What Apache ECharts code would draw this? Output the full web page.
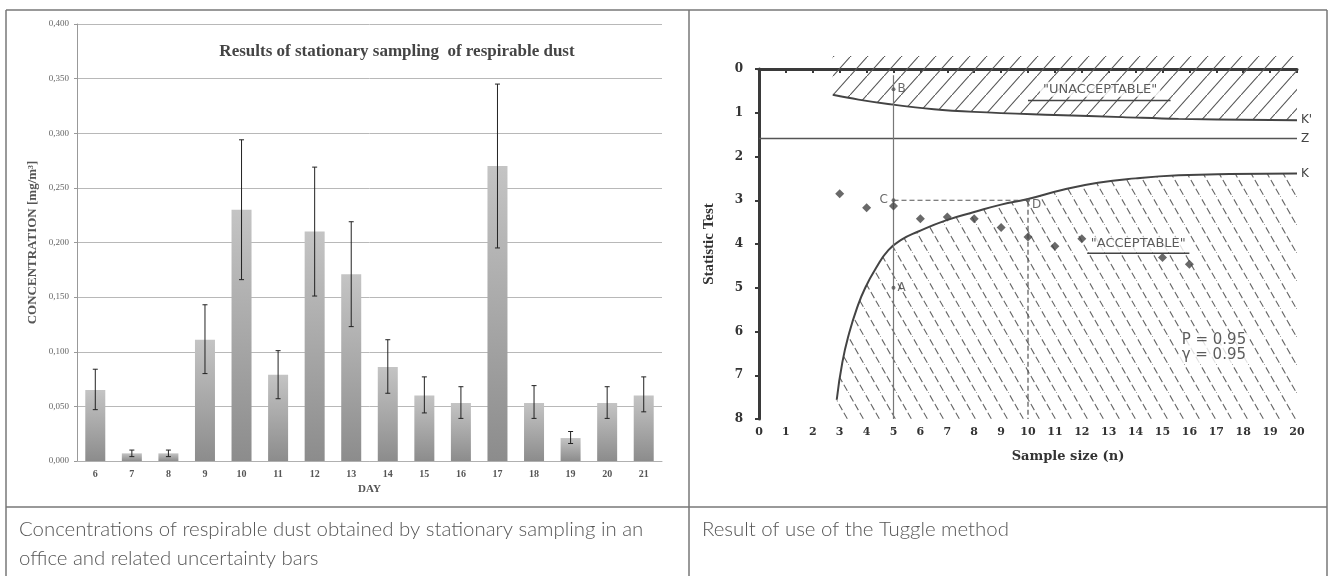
<!DOCTYPE html>
<html>
<head>
<meta charset="utf-8">
<script src="https://cdn.jsdelivr.net/npm/echarts@6/dist/echarts.min.js"></script>
<style>
  body { margin: 0; background: #fff; }
  #main { width: 1329px; height: 576px; }
</style>
</head>
<body>
<div id="main"></div>
<script>
// left panel: stationary sampling of respirable dust
const days = ['6', '7', '8', '9', '10', '11', '12', '13', '14', '15', '16', '17', '18', '19', '20', '21'];
const concentration = [0.065, 0.007, 0.007, 0.111, 0.230, 0.079, 0.210, 0.171, 0.086, 0.060, 0.053, 0.270, 0.053, 0.021, 0.053, 0.060];
const errLow = [0.047, 0.004, 0.004, 0.080, 0.166, 0.057, 0.151, 0.123, 0.062, 0.044, 0.039, 0.195, 0.039, 0.016, 0.039, 0.045];
const errHigh = [0.084, 0.010, 0.010, 0.143, 0.294, 0.101, 0.269, 0.219, 0.111, 0.077, 0.068, 0.345, 0.069, 0.027, 0.068, 0.077];

// right panel: Tuggle method
const curveKprime = [[2.74, 0.59], [3.7, 0.7], [4.8, 0.8], [6.5, 0.92], [8, 0.98], [11, 1.05], [13.5, 1.1], [15.6, 1.14], [20, 1.17]];
const curveK = [[2.89, 7.56], [3.1, 6.7], [3.35, 6.04], [3.65, 5.45], [3.95, 5.0], [4.35, 4.55], [4.81, 4.14], [5.3, 3.9], [5.9, 3.72], [6.95, 3.46], [8, 3.27], [9, 3.1], [10, 2.97], [11.3, 2.76], [12.6, 2.6], [14, 2.5], [15.6, 2.43], [17.5, 2.4], [20, 2.39]];
const lineZ = [[0, 1.59], [20, 1.59]];
const sampleN = [3, 4, 5, 6, 7, 8, 9, 10, 11, 12, 15, 16];
const statTest = [2.85, 3.17, 3.13, 3.42, 3.38, 3.42, 3.62, 3.84, 4.05, 3.88, 4.31, 4.46];
const keyPoints = [[5, 0.46, 'B'], [5, 3.0, 'C'], [10, 3.0, 'D'], [5, 5.0, 'A']];
const lineAB = [[5, 0.14], [5, 8]];
const lineCD = [[5, 3.0], [10, 3.0], [10, 8]];

// hatch pattern for the hatched regions
function hatch(w, h, dir, color, dash) {
  const c = document.createElement('canvas');
  c.width = w; c.height = h;
  const ctx = c.getContext('2d');
  ctx.strokeStyle = color;
  ctx.lineWidth = 1.1;
  if (dash) ctx.setLineDash(dash);
  ctx.beginPath();
  if (dir === '/') {
    ctx.moveTo(-w * 0.5, h * 1.5); ctx.lineTo(w * 1.5, -h * 0.5);
  } else {
    ctx.moveTo(-w * 0.5, -h * 0.5); ctx.lineTo(w * 1.5, h * 1.5);
  }
  ctx.stroke();
  return c;
}

const serif = 'Liberation Serif';
const chart = echarts.init(document.getElementById('main'));

const option = {
  backgroundColor: '#fff',
  animation: false,
  grid: [
    { left: 77, top: 24, right: 667, bottom: 115 },
    { left: 759, top: 69, right: 32, bottom: 157 }
  ],
  xAxis: [
    {
      gridIndex: 0,
      type: 'category',
      data: days,
      axisLine: { lineStyle: { color: '#b0b0b0' } },
      axisTick: { length: 3, lineStyle: { color: '#999' } },
      axisLabel: { fontFamily: serif, fontWeight: 'bold', fontSize: 10, color: '#555', margin: 8 },
      name: 'DAY',
      nameLocation: 'middle',
      nameGap: 22,
      nameTextStyle: { fontFamily: serif, fontWeight: 'bold', fontSize: 11, color: '#555' }
    },
    {
      gridIndex: 1,
      type: 'value',
      min: 0,
      max: 20,
      interval: 1,
      axisLine: { lineStyle: { color: '#3a3a3a', width: 3 } },
      axisTick: { length: 4, lineStyle: { color: '#3a3a3a', width: 2 } },
      splitLine: { show: false },
      axisLabel: { fontFamily: 'DejaVu Serif', fontWeight: 'bold', fontSize: 11, color: '#333', margin: 8 },
      name: 'Sample size (n)',
      nameLocation: 'middle',
      nameGap: 31,
      nameTextStyle: { fontFamily: 'DejaVu Serif', fontWeight: 'bold', fontSize: 13, color: '#333', padding: [0, 0, 0, 80] }
    }
  ],
  yAxis: [
    {
      gridIndex: 0,
      type: 'value',
      min: 0,
      max: 0.4,
      interval: 0.05,
      axisLine: { show: true, lineStyle: { color: '#999' } },
      axisTick: { show: true, length: 3, lineStyle: { color: '#999' } },
      splitLine: { lineStyle: { color: '#b8b8b8' } },
      axisLabel: {
        formatter: v => v.toFixed(3).replace('.', ','),
        fontFamily: serif, fontSize: 9, color: '#666', margin: 8
      },
      name: 'CONCENTRATION [mg/m³]',
      nameLocation: 'middle',
      nameRotate: 90,
      nameGap: 38,
      nameTextStyle: { fontFamily: serif, fontWeight: 'bold', fontSize: 13, color: '#555' }
    },
    {
      gridIndex: 1,
      type: 'value',
      inverse: true,
      min: 0,
      max: 8,
      interval: 1,
      axisLine: { show: true, lineStyle: { color: '#3a3a3a', width: 3 } },
      axisTick: { show: true, length: 4, lineStyle: { color: '#3a3a3a', width: 2 } },
      splitLine: { show: false },
      axisLabel: { fontFamily: 'DejaVu Serif', fontWeight: 'bold', fontSize: 12, color: '#333', margin: 16 },
      name: 'Statistic Test',
      nameLocation: 'middle',
      nameRotate: 90,
      nameGap: 42,
      nameTextStyle: { fontFamily: serif, fontWeight: 'bold', fontSize: 15, color: '#333' }
    }
  ],
  graphic: [
    // table borders
    { type: 'line', shape: { x1: 6, y1: 10, x2: 1327, y2: 10 }, style: { stroke: '#777', lineWidth: 1.5 } },
    { type: 'line', shape: { x1: 6, y1: 507, x2: 1327, y2: 507 }, style: { stroke: '#777', lineWidth: 1.5 } },
    { type: 'line', shape: { x1: 6, y1: 10, x2: 6, y2: 576 }, style: { stroke: '#777', lineWidth: 1.5 } },
    { type: 'line', shape: { x1: 689, y1: 10, x2: 689, y2: 576 }, style: { stroke: '#777', lineWidth: 1.5 } },
    { type: 'line', shape: { x1: 1327, y1: 10, x2: 1327, y2: 576 }, style: { stroke: '#777', lineWidth: 1.5 } },
    // title of left chart
    {
      type: 'text', x: 397, y: 52,
      style: {
        text: 'Results of stationary sampling  of respirable dust',
        font: 'bold 17px "Liberation Serif"', fill: '#444', align: 'center', verticalAlign: 'middle'
      }
    },
    // captions
    {
      type: 'text', x: 19, y: 515,
      style: {
        text: 'Concentrations of respirable dust obtained by stationary sampling in an\noffice and related uncertainty bars',
        font: '300 20.4px Lato', fill: '#555', lineHeight: 29
      }
    },
    {
      type: 'text', x: 702, y: 515,
      style: { text: 'Result of use of the Tuggle method', font: '300 20.4px Lato', fill: '#555', lineHeight: 29 }
    }
  ],
  series: [
    {
      type: 'bar',
      xAxisIndex: 0,
      yAxisIndex: 0,
      barWidth: 20,
      data: concentration,
      itemStyle: {
        color: {
          type: 'linear', x: 0, y: 0, x2: 0, y2: 1,
          colorStops: [{ offset: 0, color: '#c4c4c4' }, { offset: 1, color: '#8c8c8c' }]
        }
      }
    },
    {
      type: 'custom',
      xAxisIndex: 0,
      yAxisIndex: 0,
      data: days.map((d, i) => [i, errLow[i], errHigh[i]]),
      encode: { x: 0, y: [1, 2] },
      z: 5,
      renderItem: function (params, api) {
        const lo = api.coord([api.value(0), api.value(1)]);
        const hi = api.coord([api.value(0), api.value(2)]);
        const cap = 2.5;
        const st = { stroke: '#222', lineWidth: 1 };
        return {
          type: 'group',
          children: [
            { type: 'line', shape: { x1: lo[0], y1: lo[1], x2: hi[0], y2: hi[1] }, style: st },
            { type: 'line', shape: { x1: lo[0] - cap, y1: lo[1], x2: lo[0] + cap, y2: lo[1] }, style: st },
            { type: 'line', shape: { x1: hi[0] - cap, y1: hi[1], x2: hi[0] + cap, y2: hi[1] }, style: st }
          ]
        };
      }
    },
    {
      type: 'line',
      xAxisIndex: 1,
      yAxisIndex: 1,
      data: curveKprime,
      smooth: 0.4,
      symbol: 'none',
      clip: false,
      lineStyle: { color: '#444', width: 2 },
      areaStyle: { color: { image: hatch(17, 19, '/', '#555'), repeat: 'repeat' }, origin: -0.3, opacity: 1 },
      endLabel: { show: true, formatter: "K'", fontFamily: 'DejaVu Sans', fontSize: 12, color: '#444', distance: 4 }
    },
    {
      type: 'line',
      xAxisIndex: 1,
      yAxisIndex: 1,
      data: curveK,
      smooth: 0.5,
      symbol: 'none',
      lineStyle: { color: '#444', width: 2 },
      areaStyle: { color: { image: hatch(16, 28, '\\', '#666', [7, 3]), repeat: 'repeat' }, origin: 'end', opacity: 1 },
      endLabel: { show: true, formatter: 'K', fontFamily: 'DejaVu Sans', fontSize: 12, color: '#444', distance: 4 }
    },
    {
      type: 'line',
      xAxisIndex: 1,
      yAxisIndex: 1,
      data: lineZ,
      symbol: 'none',
      lineStyle: { color: '#555', width: 1.5 },
      endLabel: { show: true, formatter: 'Z', fontFamily: 'DejaVu Sans', fontSize: 12, color: '#444', distance: 4 }
    },
    {
      type: 'line',
      xAxisIndex: 1,
      yAxisIndex: 1,
      data: lineAB,
      symbol: 'none',
      lineStyle: { color: '#777', width: 1.2 }
    },
    {
      type: 'line',
      xAxisIndex: 1,
      yAxisIndex: 1,
      data: lineCD,
      symbol: 'none',
      lineStyle: { color: '#555', width: 1.2, type: [5, 3] }
    },
    {
      type: 'scatter',
      xAxisIndex: 1,
      yAxisIndex: 1,
      data: sampleN.map((n, i) => [n, statTest[i]]),
      symbol: 'diamond',
      symbolSize: 9,
      itemStyle: { color: '#444' },
      z: 6
    },
    {
      type: 'scatter',
      xAxisIndex: 1,
      yAxisIndex: 1,
      data: keyPoints,
      symbolSize: 4,
      itemStyle: { color: '#555' },
      label: {
        show: true,
        formatter: p => p.value[2],
        position: 'right',
        distance: 2,
        fontFamily: 'DejaVu Sans',
        fontSize: 12,
        color: '#444'
      },
      labelLayout: function (params) {
        const name = keyPoints[params.dataIndex][2];
        if (name === 'C') return { dx: -18 };
        if (name === 'D') return { dy: 5 };
        return {};
      },
      z: 6
    },
    {
      type: 'scatter',
      xAxisIndex: 1,
      yAxisIndex: 1,
      data: [[12.68, 0.46, '"UNACCEPTABLE"'], [14.1, 4.0, '"ACCEPTABLE"']],
      symbolSize: 0,
      label: {
        show: true, position: 'inside', formatter: p => p.value[2],
        fontFamily: 'DejaVu Sans', fontSize: 13, color: '#333',
        backgroundColor: '#fff', padding: [1, 3]
      },
      z: 7
    },
    {
      type: 'scatter',
      xAxisIndex: 1,
      yAxisIndex: 1,
      data: [[15.6, 6.2, 'P = 0.95'], [15.6, 6.55, 'γ = 0.95']],
      symbolSize: 0,
      label: {
        show: true, position: 'right', distance: 0, formatter: p => p.value[2],
        fontFamily: 'DejaVu Sans', fontSize: 15, color: '#333',
        backgroundColor: '#fff', padding: [0, 3]
      },
      z: 7
    },
    {
      type: 'line',
      xAxisIndex: 1,
      yAxisIndex: 1,
      data: [[10.0, 0.72], [15.3, 0.72]],
      symbol: 'none',
      z: 8,
      lineStyle: { color: '#444', width: 1.5 }
    },
    {
      type: 'line',
      xAxisIndex: 1,
      yAxisIndex: 1,
      data: [[12.2, 4.21], [16.0, 4.21]],
      symbol: 'none',
      z: 8,
      lineStyle: { color: '#444', width: 1.5 }
    }
  ]
};

chart.setOption(option);
</script>
</body>
</html>
